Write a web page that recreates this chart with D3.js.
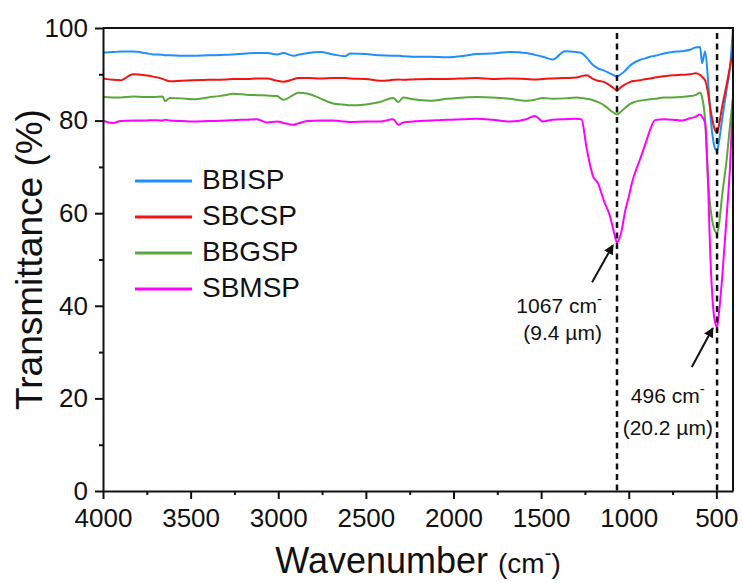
<!DOCTYPE html>
<html>
<head>
<meta charset="utf-8">
<script src="https://cdn.jsdelivr.net/npm/d3@7"></script>
<style>
  body { margin: 0; background: #fff; }
  svg text { font-family: "Liberation Sans", Arial, sans-serif; fill: #111; }
</style>
</head>
<body>
<div id="chart"></div>
<script>
// chart data
var wavenumbers = [4000, 3943, 3900, 3829, 3760, 3714, 3660, 3646, 3618, 3550, 3486, 3400, 3300, 3257, 3180, 3121, 3064, 3007, 2971, 2915, 2887, 2830, 2761, 2687, 2620, 2590, 2500, 2420, 2344, 2315, 2287, 2230, 2135, 2037, 1940, 1867, 1780, 1678, 1585, 1535, 1490, 1433, 1364, 1300, 1270, 1240, 1204, 1176, 1140, 1108, 1085, 1067, 1045, 1020, 1000, 982, 937, 900, 878, 850, 800, 750, 700, 650, 620, 593, 581, 564, 547, 536, 519, 506, 496, 485, 468, 440, 422, 405];

var bbisp = [94.7, 94.8, 94.9, 94.9, 94.6, 94.3, 94.2, 94.1, 94.1, 94.0, 94.0, 94.1, 94.2, 94.3, 94.5, 94.6, 94.6, 94.3, 94.6, 94.0, 94.2, 94.6, 94.8, 94.3, 93.9, 94.5, 94.4, 94.1, 94.0, 94.0, 93.9, 93.8, 93.8, 93.7, 94.0, 94.4, 94.5, 94.8, 94.6, 94.2, 93.8, 93.2, 95.0, 94.8, 94.6, 93.6, 92.0, 91.3, 90.8, 90.2, 89.8, 89.5, 90.0, 90.8, 91.6, 92.2, 93.1, 93.5, 93.8, 94.0, 94.5, 94.8, 95.0, 95.3, 95.8, 95.9, 92.4, 95.0, 88.5, 82.3, 76.0, 73.8, 73.5, 75.5, 80.0, 87.0, 91.5, 100];

var sbcsp = [89.1, 88.8, 88.7, 90.0, 89.8, 89.5, 89.0, 88.8, 88.5, 88.6, 88.7, 88.8, 88.9, 89.0, 89.0, 89.1, 89.1, 88.6, 88.4, 88.9, 89.2, 89.2, 89.1, 89.2, 89.2, 89.1, 89.0, 88.6, 88.8, 88.9, 88.8, 88.9, 89.0, 89.0, 89.1, 89.2, 89.0, 89.1, 89.0, 88.9, 89.0, 89.1, 89.2, 89.3, 89.6, 89.8, 89.0, 88.6, 88.3, 87.6, 87.0, 86.5, 87.2, 87.8, 88.2, 88.5, 88.7, 89.0, 89.1, 89.3, 89.6, 89.8, 89.9, 90.0, 90.2, 89.9, 89.4, 88.7, 85.9, 83.0, 79.5, 77.8, 77.3, 79.0, 82.8, 88.0, 91.6, 95.2];

var bbgsp = [85.1, 85.0, 85.0, 85.2, 85.1, 85.1, 85.2, 84.2, 84.9, 84.8, 84.6, 85.0, 85.5, 85.8, 85.6, 85.5, 85.4, 85.3, 84.5, 85.5, 86.0, 85.8, 84.8, 83.7, 83.4, 83.3, 83.5, 84.0, 84.9, 84.0, 85.0, 84.6, 84.3, 84.7, 85.0, 85.1, 85.0, 84.7, 84.3, 84.5, 84.9, 84.7, 84.8, 85.0, 84.9, 84.7, 84.4, 84.0, 83.3, 82.3, 81.7, 81.3, 81.9, 82.8, 83.4, 83.8, 84.3, 84.5, 84.6, 84.7, 85.0, 85.0, 85.1, 85.3, 85.5, 86.0, 85.0, 80.0, 67.0, 62.0, 57.5, 56.0, 55.7, 57.5, 63.5, 72.0, 79.0, 85.0];

var sbmsp = [80.0, 79.5, 79.9, 80.0, 80.0, 80.1, 80.0, 80.2, 80.0, 79.9, 79.8, 79.9, 80.0, 80.1, 80.2, 80.3, 79.6, 79.8, 79.5, 79.1, 79.4, 79.9, 80.0, 80.0, 79.8, 79.7, 79.8, 79.8, 80.3, 79.1, 79.6, 79.8, 80.0, 80.2, 80.3, 80.4, 80.2, 79.8, 80.3, 81.0, 79.8, 80.2, 80.3, 80.4, 80.3, 74.0, 68.0, 66.5, 62.5, 59.5, 56.0, 53.7, 55.5, 60.5, 63.5, 66.5, 71.5, 75.5, 78.0, 80.1, 80.3, 80.2, 80.0, 80.5, 80.8, 81.3, 80.8, 79.5, 66.0, 52.5, 40.0, 36.2, 35.4, 38.5, 45.5, 60.0, 70.0, 85.0];

var seriesNames = ["BBISP", "SBCSP", "BBGSP", "SBMSP"];
var seriesColors = ["#1e8fff", "#f01414", "#5aa83c", "#ff00ff"];
var seriesValues = [bbisp, sbcsp, bbgsp, sbmsp];

var xTicks = [4000, 3500, 3000, 2500, 2000, 1500, 1000, 500];
var xMinorTicks = [3750, 3250, 2750, 2250, 1750, 1250, 750];
var yTicks = [0, 20, 40, 60, 80, 100];
var yMinorTicks = [10, 30, 50, 70, 90];

// marked peaks: position, label lines, arrow tail/tip
var peaks = [1067, 496];
var peakLabels = [["1067 cm", "(9.4 \u00b5m)"], ["496 cm", "(20.2 \u00b5m)"]];
var peakLabelPos = [[1153, 38.4, 32.6, "end"], [777, 19.0, 12.1, "middle"]];
var peakArrows = [[1209, 45.1, 1090, 53.1], [640, 26.8, 520, 35.2]];

var width = 743, height = 583;
var margin = {top: 28, right: 10, bottom: 92, left: 103};

var svg = d3.select("#chart").append("svg")
  .attr("width", width)
  .attr("height", height);

var x = d3.scaleLinear().domain([4000, 405]).range([margin.left, width - margin.right]);
var y = d3.scaleLinear().domain([0, 100]).range([height - margin.bottom, margin.top]);

// arrowhead
svg.append("defs").append("marker")
  .attr("id", "arrow")
  .attr("viewBox", "0 0 10 10")
  .attr("refX", 9).attr("refY", 5)
  .attr("markerWidth", 5).attr("markerHeight", 5)
  .attr("orient", "auto")
  .append("path").attr("d", "M0,0 L10,5 L0,10 z").attr("fill", "#111");

// spectra
var line = d3.line()
  .x(function(d) { return x(d[0]); })
  .y(function(d) { return y(d[1]); })
  .curve(d3.curveMonotoneX);

var clip = svg.append("clipPath").attr("id", "plot-clip").append("rect")
  .attr("x", margin.left).attr("y", margin.top)
  .attr("width", width - margin.left - margin.right)
  .attr("height", height - margin.top - margin.bottom);

seriesValues.forEach(function(vals, i) {
  var pts = wavenumbers.map(function(w, j) { return [w, vals[j]]; });
  svg.append("path")
    .datum(pts)
    .attr("clip-path", "url(#plot-clip)")
    .attr("fill", "none")
    .attr("stroke", seriesColors[i])
    .attr("stroke-width", 2)
    .attr("stroke-linejoin", "round")
    .attr("d", line);
});

// dashed peak markers
svg.selectAll(".peak").data(peaks).enter().append("line")
  .attr("x1", function(d) { return x(d); })
  .attr("x2", function(d) { return x(d); })
  .attr("y1", y(98.9)).attr("y2", y(0))
  .attr("stroke", "#111").attr("stroke-width", 2.5)
  .attr("stroke-dasharray", "6,4.5");

// arrows
svg.selectAll(".arr").data(peakArrows).enter().append("line")
  .attr("x1", function(d) { return x(d[0]); })
  .attr("y1", function(d) { return y(d[1]); })
  .attr("x2", function(d) { return x(d[2]); })
  .attr("y2", function(d) { return y(d[3]); })
  .attr("stroke", "#111").attr("stroke-width", 2)
  .attr("marker-end", "url(#arrow)");

// peak labels
peakLabels.forEach(function(lbl, i) {
  var p = peakLabelPos[i];
  var t1 = svg.append("text")
    .attr("x", x(p[0])).attr("y", y(p[1]))
    .attr("text-anchor", p[3])
    .attr("font-size", 21)
    .text(lbl[0]);
  t1.append("tspan").attr("dy", -9).attr("font-size", 15).text("-");
  svg.append("text")
    .attr("x", x(p[0])).attr("y", y(p[2]))
    .attr("text-anchor", p[3])
    .attr("font-size", 21)
    .text(lbl[1]);
});

// axes
var xAxis = svg.append("g")
  .attr("transform", "translate(0," + y(0) + ")")
  .call(d3.axisBottom(x).tickValues(xTicks).tickSize(8).tickSizeOuter(0).tickPadding(10).tickFormat(d3.format("d")));
svg.append("g")
  .attr("transform", "translate(0," + y(0) + ")")
  .call(d3.axisBottom(x).tickValues(xMinorTicks).tickSize(4).tickSizeOuter(0).tickFormat(""))
  .select(".domain").remove();

var yAxis = svg.append("g")
  .attr("transform", "translate(" + x(4000) + ",0)")
  .call(d3.axisLeft(y).tickValues(yTicks).tickSize(8).tickSizeOuter(0).tickPadding(7));
svg.append("g")
  .attr("transform", "translate(" + x(4000) + ",0)")
  .call(d3.axisLeft(y).tickValues(yMinorTicks).tickSize(4).tickSizeOuter(0).tickFormat(""))
  .select(".domain").remove();

svg.selectAll(".domain, .tick line").attr("stroke", "#111").attr("stroke-width", 2);
svg.selectAll(".tick text").attr("font-size", 26).attr("fill", "#111")
  .attr("font-family", "'Liberation Sans', Arial, sans-serif");

// top and right frame
svg.append("path")
  .attr("d", "M" + x(4000) + "," + y(100) + "H" + x(405) + "V" + y(0))
  .attr("fill", "none").attr("stroke", "#111").attr("stroke-width", 2);

// axis titles
var xt = svg.append("text")
  .attr("x", (x(4000) + x(405)) / 2)
  .attr("y", 573)
  .attr("text-anchor", "middle");
xt.append("tspan").attr("font-size", 36).text("Wavenumber ");
xt.append("tspan").attr("font-size", 28).text("(cm");
xt.append("tspan").attr("font-size", 20).attr("dy", -13).text("-");
xt.append("tspan").attr("font-size", 28).attr("dy", 13).text(")");

svg.append("text")
  .attr("transform", "translate(42," + (y(0) + y(100)) / 2 + ") rotate(-90)")
  .attr("text-anchor", "middle")
  .attr("font-size", 37)
  .text("Transmittance (%)");

// legend
var legend = svg.selectAll(".legend").data(seriesNames).enter().append("g")
  .attr("transform", function(d, i) { return "translate(135," + (181 + i * 36) + ")"; });
legend.append("line")
  .attr("x1", 0).attr("x2", 57)
  .attr("stroke", function(d, i) { return seriesColors[i]; })
  .attr("stroke-width", 3);
legend.append("text")
  .attr("x", 67).attr("y", 8)
  .attr("font-size", 28)
  .text(function(d) { return d; });
</script>
</body>
</html>
